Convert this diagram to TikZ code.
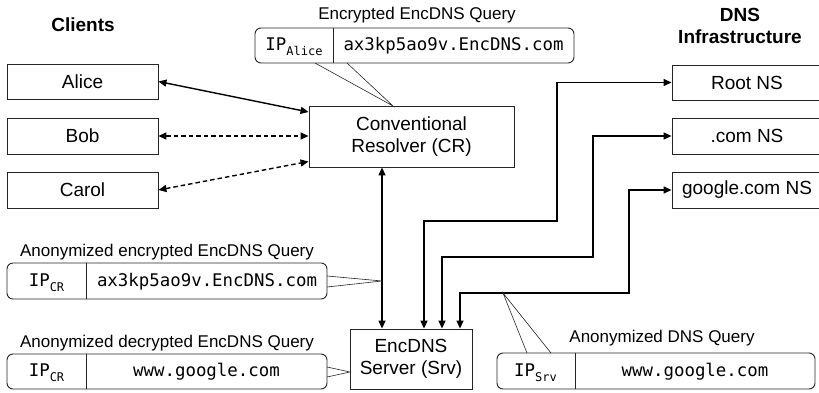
\documentclass[tikz,border=0pt]{standalone}
\usepackage{fontspec}
\setmainfont{Liberation Sans}
\setmonofont{DejaVu Sans Mono}
\usetikzlibrary{arrows.meta}
\newcommand{\ipsub}[1]{IP\raisebox{-5pt}{\fontsize{12}{12}\selectfont #1}}
\tikzset{
  box/.style={draw=black!85, line width=0.9pt, inner sep=0pt, font=\fontsize{19}{22}\selectfont, align=center},
  qbox/.style={draw=black!85, line width=0.9pt, rounded corners=6pt, inner sep=0pt},
  divider/.style={draw=black!85, line width=0.9pt},
  lbl/.style={font=\fontsize{17}{20}\selectfont, inner sep=0pt},
  hdr/.style={font=\fontsize{19}{22}\selectfont\bfseries, inner sep=0pt, align=center},
  mono/.style={font=\fontsize{17.4}{20}\selectfont\ttfamily, inner sep=0pt, anchor=base},
  conn/.style={line width=1.4pt, {Triangle[length=8pt,width=7pt]}-{Triangle[length=8pt,width=7pt]}},
  dconn/.style={conn, dash pattern=on 4.5pt off 3pt},
  callout/.style={line width=0.6pt, draw=black!85},
}
\begin{document}
\begin{tikzpicture}[x=1pt,y=-1pt]
\useasboundingbox (0,0) rectangle (819,393);
\clip (0,0) rectangle (819,393);

% headers
\node[hdr] (hc) at (83,25) {Clients};
\node[hdr] (hd) at (740,25.5) {DNS\\Infrastructure};

% clients
\node[box, minimum width=151pt, minimum height=35pt] (alice) at (82.5,81.5) {Alice};
\node[box, minimum width=151pt, minimum height=36pt] (bob) at (82.5,136) {Bob};
\node[box, minimum width=151pt, minimum height=36pt] (carol) at (82.5,190) {Carol};

% resolver and server
\node[box, minimum width=205pt, minimum height=61pt] (cr) at (411.5,136.5) {Conventional\\Resolver (CR)};
\node[box, minimum width=122pt, minimum height=60pt] (srv) at (411,359) {EncDNS\\Server (Srv)};

% name servers
\node[box, minimum width=150pt, minimum height=35pt] (root) at (747,82.5) {Root NS};
\node[box, minimum width=150pt, minimum height=36pt] (com) at (747,136) {.com NS};
\node[box, minimum width=150pt, minimum height=36pt] (goo) at (747,190) {google.com NS};

% client connectors
\draw[conn] (alice.east) -- ([yshift=24.5pt]cr.west);
\draw[dconn] (bob.east) -- (cr.west |- bob.east);
\draw[dconn] (carol.east) -- ([yshift=-25pt]cr.west);

% CR - Srv
\coordinate (vx) at (382,0);
\draw[conn] (cr.south -| vx) -- (srv.north -| vx);

% Srv - NS
\coordinate (r1) at (424,0);
\coordinate (r2) at (442,0);
\coordinate (r3) at (460,0);
\coordinate (k1) at (557,221);
\coordinate (k2) at (593,257);
\coordinate (k3) at (629,293);
\draw[conn] (root.west) -| (k1) -| (srv.north -| r1);
\draw[conn] (com.west) -| (k2) -| (srv.north -| r2);
\draw[conn] (goo.west) -| (k3) -| (srv.north -| r3);

% Query 1
\node[lbl] (l1) at (417,15) {Encrypted EncDNS Query};
\node[qbox, minimum width=319pt, minimum height=35pt] (q1) at (414.5,45.5) {};
\coordinate (d1) at (333,0);
\draw[divider] (q1.north -| d1) -- (q1.south -| d1);
\node[mono] (q1ip) at (294,50.5) {\ipsub{Alice}};
\node[mono] (q1t) at (453.5,50.5) {ax3kp5ao9v.EncDNS.com};
\coordinate (c1a) at (315,63);
\coordinate (c1b) at (347,63);
\coordinate (c1p) at (393,106);
\draw[callout] (c1a) -- (c1p) -- (c1b);

% Query 2
\node[lbl] (l2) at (167,252) {Anonymized encrypted EncDNS Query};
\node[qbox, minimum width=320pt, minimum height=36pt] (q2) at (167,281) {};
\coordinate (d2) at (86,0);
\draw[divider] (q2.north -| d2) -- (q2.south -| d2);
\node[mono] (q2ip) at (46.5,286) {\ipsub{CR}};
\node[mono] (q2t) at (207,286) {ax3kp5ao9v.EncDNS.com};
\coordinate (c2a) at (327,276);
\coordinate (c2b) at (327,287);
\coordinate (c2p) at (382,281);
\draw[callout] (c2a) -- (c2p) -- (c2b);

% Query 3
\node[lbl] (l3) at (167,343) {Anonymized decrypted EncDNS Query};
\node[qbox, minimum width=320pt, minimum height=35pt] (q3) at (167,371.5) {};
\draw[divider] (q3.north -| d2) -- (q3.south -| d2);
\node[mono] (q3ip) at (46.5,376.5) {\ipsub{CR}};
\node[mono] (q3t) at (206.5,376.5) {www.google.com};
\coordinate (c3a) at (327,367);
\coordinate (c3b) at (327,377);
\coordinate (c3p) at (350,372);
\draw[callout] (c3a) -- (c3p) -- (c3b);

% Query 4
\node[lbl] (l4) at (662,338) {Anonymized DNS Query};
\node[qbox, minimum width=318pt, minimum height=36pt] (q4) at (656,371) {};
\coordinate (d4) at (575,0);
\draw[divider] (q4.north -| d4) -- (q4.south -| d4);
\node[mono] (q4ip) at (535.5,376.5) {\ipsub{Srv}};
\node[mono] (q4t) at (695,376.5) {www.google.com};
\coordinate (c4a) at (527,353);
\coordinate (c4b) at (551,353);
\coordinate (c4p) at (503,293);
\draw[callout] (c4a) -- (c4p) -- (c4b);
\end{tikzpicture}
\end{document}
